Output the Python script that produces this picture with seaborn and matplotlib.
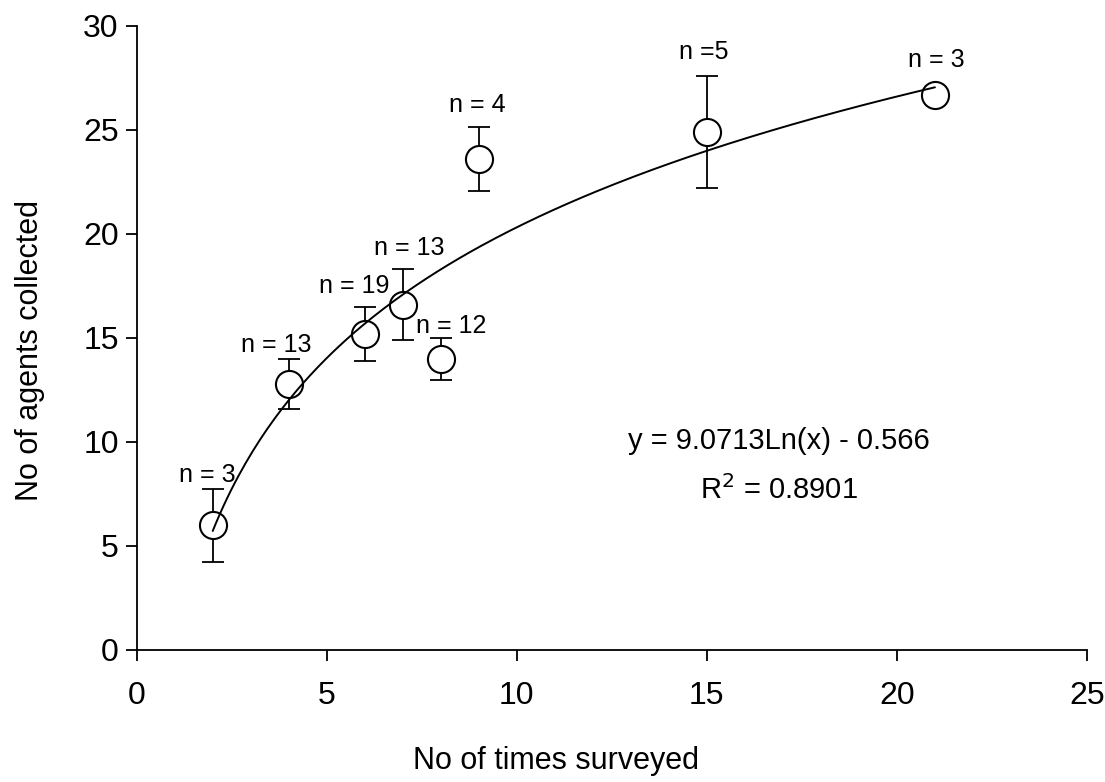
# Agents collected vs number of times surveyed, with log trend line

import numpy as np
import pandas as pd
import seaborn as sns
from matplotlib import pyplot as plt

# data
times_surveyed = [2, 4, 6, 7, 8, 9, 15, 21]
agents_mean = [6.0, 12.8, 15.2, 16.6, 14.0, 23.6, 24.9, 26.7]
agents_err = [1.75, 1.2, 1.3, 1.7, 1.0, 1.55, 2.7, 0.0]
n_labels = ['n = 3', 'n = 13', 'n = 19', 'n = 13', 'n = 12', 'n = 4', 'n =5', 'n = 3']

# trend line coefficients (as printed on the chart)
fit_a = 9.0713
fit_b = -0.566
fit_text = 'y = 9.0713Ln(x) - 0.566'
r2_text = 'R$^2$ = 0.8901'

# label offsets in pixels (dx, dy) from the top of each error bar
label_offsets = [(-5, 14), (-12, 14), (-11, 21), (6, 21), (10, 12), (-1, 22), (-3, 24), (1, 22)]

df = pd.DataFrame({'x': times_surveyed, 'y': agents_mean, 'err': agents_err})

xs = np.linspace(min(times_surveyed), max(times_surveyed), 200)
fit_df = pd.DataFrame({'x': xs, 'y': fit_a * np.log(xs) + fit_b})

sns.set_style('ticks')
plt.rcParams['font.family'] = ['Liberation Sans', 'DejaVu Sans']
plt.rcParams['text.color'] = 'black'
plt.rcParams['axes.labelcolor'] = 'black'
plt.rcParams['xtick.color'] = 'black'
plt.rcParams['ytick.color'] = 'black'

fig = plt.figure(figsize=(11.05, 7.82), dpi=100)
ax = fig.add_axes([0.1237, 0.1688, 0.8600, 0.7980])

ax.errorbar(df['x'], df['y'], yerr=df['err'], fmt='none', ecolor='black',
            elinewidth=1.3, capsize=8, capthick=1.3, zorder=2)
sns.scatterplot(data=df, x='x', y='y', marker='o', s=380, color='white',
                edgecolor='black', linewidth=1.5, zorder=3, ax=ax)
sns.lineplot(data=fit_df, x='x', y='y', color='black', linewidth=1.4,
             zorder=4, ax=ax)

for (x, y, e, lab, (dx, dy)) in zip(times_surveyed, agents_mean, agents_err,
                                    n_labels, label_offsets):
    top = y + e if e > 0 else y + 0.6
    ax.annotate(lab, (x, top), xytext=(dx, dy), textcoords='offset pixels',
                ha='center', va='center', fontsize=18)

ax.text(16.9, 10.05, fit_text, ha='center', va='center', fontsize=21)
ax.text(16.9, 7.7, r2_text, ha='center', va='center', fontsize=21)

ax.set_xlim(0, 25)
ax.set_ylim(0, 30)
ax.set_xticks(range(0, 26, 5))
ax.set_yticks(range(0, 31, 5))
ax.tick_params(axis='both', direction='out', length=8, width=1.3,
               labelsize=23, color='black')
ax.tick_params(axis='x', pad=14)
ax.tick_params(axis='y', pad=5)
for s in ['left', 'bottom']:
    ax.spines[s].set_linewidth(1.3)
    ax.spines[s].set_color('black')
sns.despine(ax=ax)

ax.set_xlabel('No of times surveyed', fontsize=22, va='center')
ax.set_ylabel('No of agents collected', fontsize=22, va='center')
ax.xaxis.set_label_coords(0.441, -0.178)
ax.yaxis.set_label_coords(-0.112, 0.48)

plt.savefig('out.png', dpi=100)
